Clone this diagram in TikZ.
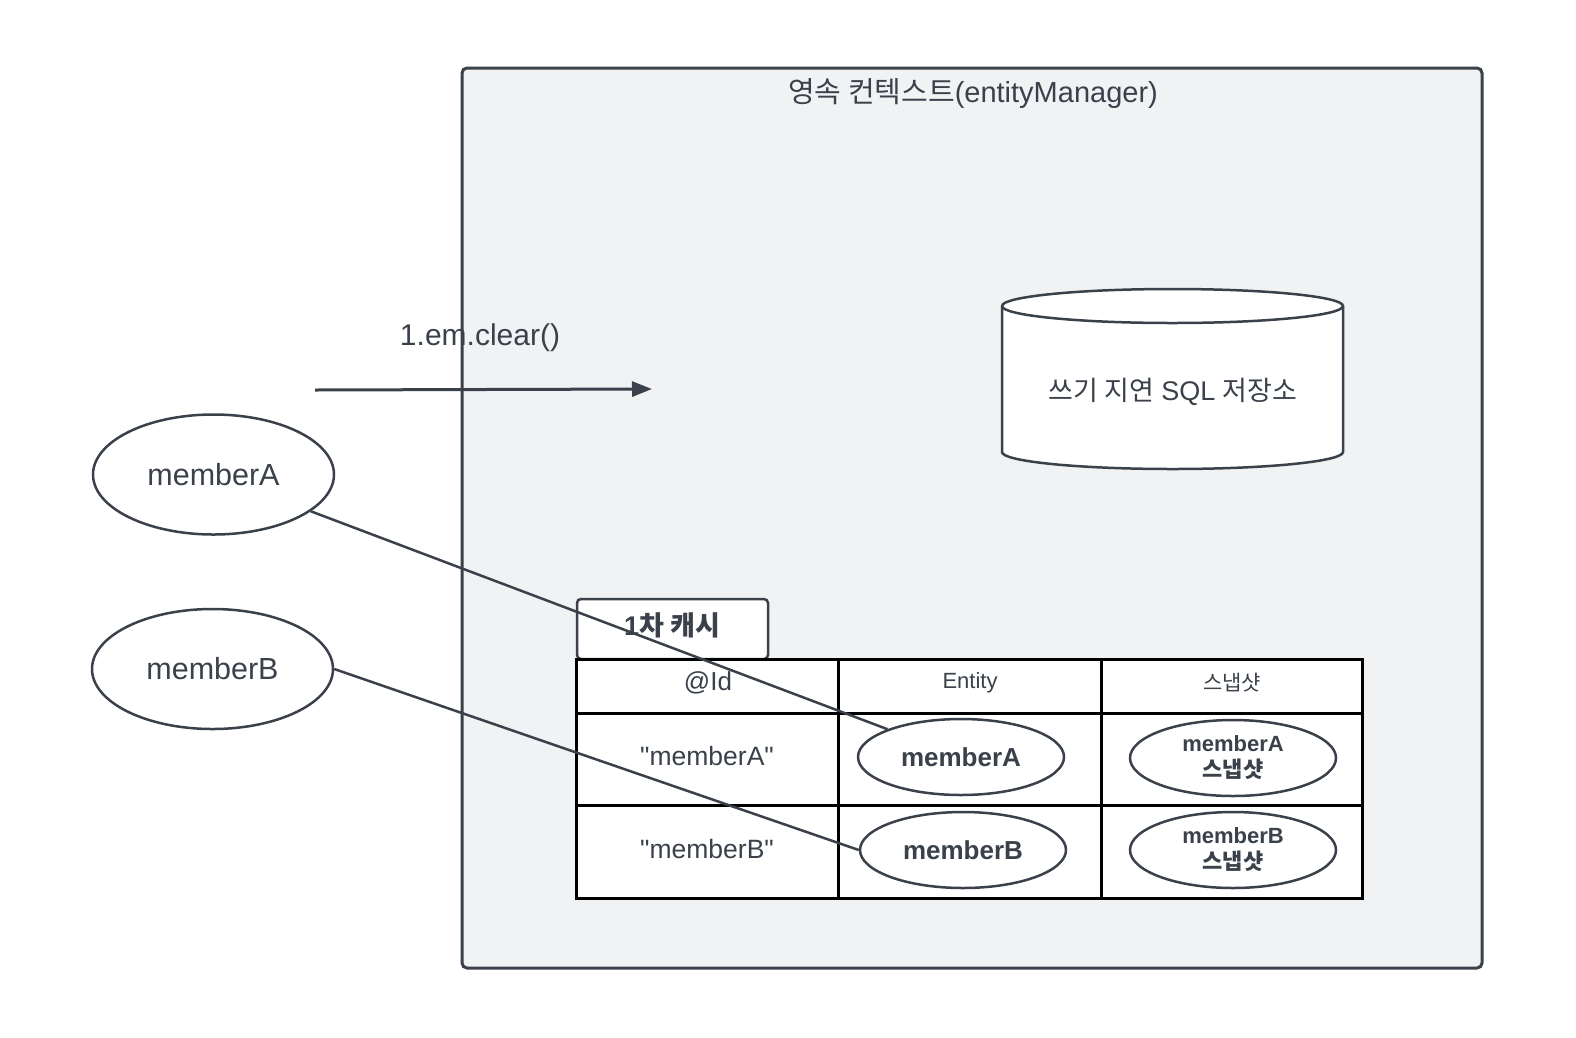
\documentclass[tikz,border=0pt]{standalone}
\usepackage{fontspec}
\setmainfont{Liberation Sans}
\newfontfamily\kr{Noto Sans CJK KR}
\newfontfamily\plain{Liberation Sans}
\usepackage{xcolor}
\usetikzlibrary{shapes.geometric, arrows.meta}
\definecolor{ink}{HTML}{3A414A}
\definecolor{pane}{HTML}{F1F2F4}

\begin{document}
\begin{tikzpicture}[x=1pt, y=-1pt, >={Triangle[length=20pt, width=15pt]},
    every node/.style={text=ink},
    member/.style={ellipse, draw=ink, line width=2.5pt, fill=white, minimum width=241pt, minimum height=120pt, inner sep=0pt, font=\fontsize{30.5}{35}\selectfont},
    cached/.style={ellipse, draw=ink, line width=2.5pt, fill=white, minimum width=206pt, minimum height=76pt, inner sep=0pt, align=center},
    grid/.style={draw=black, line width=3pt},
    link/.style={draw=ink, line width=2.5pt}]

    \useasboundingbox (0,0) rectangle (1576,1037);

    % 1. Persistence context pane
    \draw[ink, fill=pane, line width=3pt, rounded corners=5pt] (462,68) rectangle (1482,968);
    \node[font=\fontsize{29}{34}\selectfont] (ctx) at (973,94) {{\kr 영속 컨텍스트}(entityManager)};

    % 2. Write-behind SQL store
    \draw[ink, fill=white, line width=2.5pt]
        (1002,306) -- (1002,452) arc[start angle=180, end angle=360, x radius=170.5pt, y radius=17pt]
        -- (1343,306) arc[start angle=0, end angle=180, x radius=170.5pt, y radius=17pt] -- cycle;
    \draw[ink, line width=2.5pt] (1002,306) arc[start angle=180, end angle=360, x radius=170.5pt, y radius=17pt];
    \node[font=\fontsize{27}{31}\selectfont] (sql) at (1173,392) {{\kr 쓰기 지연} SQL {\kr 저장소}};

    % 3. Clear call arrow
    \node[font=\fontsize{30}{35}\selectfont] (clr) at (480,338) {1.em.clear()};
    \coordinate (clrA) at (315,390);
    \coordinate (clrB) at (652,389);
    \draw[link, line width=3pt, ->] (clrA) -- (clrB);

    % 4. Outside members
    \node[member] (mA) at (213.5,474.5) {memberA};
    \node[member] (mB) at (212.5,669) {memberB};

    % 5. First-level cache tab and table
    \draw[ink, fill=white, line width=2.5pt, rounded corners=4pt] (577,599) rectangle (768,659);
    \node[font=\bfseries\fontsize{27}{31}\selectfont] (tab) at (672,625) {1{\kr 차 캐시}};
    \fill[white] (576,659) rectangle (1362,898);
    \draw[grid] (576,659) rectangle (1362,898);
    \foreach \x in {838,1101} \draw[grid] (\x,659) -- (\x,898);
    \foreach \y in {713,805} \draw[grid] (576,\y) -- (1362,\y);

    \node[font=\fontsize{26}{30}\selectfont] (hId) at (708,683) {@Id};
    \node[font=\fontsize{22}{26}\selectfont] (hEnt) at (970,683) {Entity};
    \node[font=\kr\fontsize{21}{26}\selectfont] (hSnap) at (1232,683) {스냅샷};
    \node[font=\plain\fontsize{26.5}{30}\selectfont] (idA) at (707,756) {"memberA"};
    \node[font=\plain\fontsize{26.5}{30}\selectfont] (idB) at (707,849) {"memberB"};

    \node[cached, font=\bfseries\fontsize{26}{30}\selectfont] (eA) at (961,757) {memberA};
    \node[cached, font=\bfseries\fontsize{26}{30}\selectfont] (eB) at (963,850) {memberB};
    \node[cached, font=\bfseries\fontsize{22}{26}\selectfont] (sA) at (1233,758) {memberA\\{\kr 스냅샷}};
    \node[cached, font=\bfseries\fontsize{22}{26}\selectfont] (sB) at (1233,850) {memberB\\{\kr 스냅샷}};

    % 6. References into the cache
    \draw[link] (mA) -- (eA);
    \draw[link] (mB.east) -- (eB.west);

\end{tikzpicture}
\end{document}
